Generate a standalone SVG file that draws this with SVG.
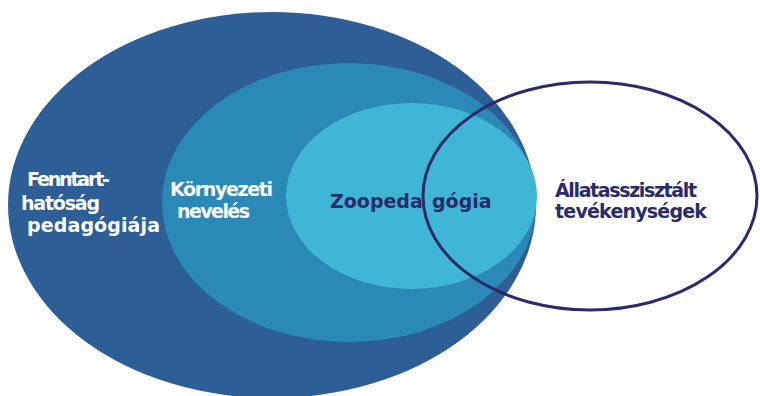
<svg xmlns="http://www.w3.org/2000/svg" width="760" height="396" viewBox="0 0 760 396">
  <style>
    .lbl { font-family: "DejaVu Sans", "Liberation Sans", sans-serif; font-weight: bold; font-size: 19px; }
    .w { fill: #ffffff; }
    .n { fill: #2b2a6b; }
  </style>
  <rect width="760" height="396" fill="#ffffff"/>
  <g id="node-fenntarthatosag">
    <ellipse cx="272" cy="205" rx="264" ry="193" fill="#2d5e96"/>
    <text class="lbl w" x="27" y="186" textLength="83" lengthAdjust="spacing">Fenntart-</text>
    <text class="lbl w" x="21" y="210" textLength="79" lengthAdjust="spacing">hatóság</text>
    <text class="lbl w" x="27" y="232" textLength="133" lengthAdjust="spacing">pedagógiája</text>
  </g>
  <g id="node-kornyezeti">
    <ellipse cx="349" cy="202.5" rx="187" ry="139.5" fill="#2b89b8"/>
    <text class="lbl w" x="170" y="196" textLength="103" lengthAdjust="spacing">Környezeti</text>
    <text class="lbl w" x="177" y="218" textLength="73" lengthAdjust="spacing">nevelés</text>
  </g>
  <g id="node-zoopedagogia">
    <ellipse cx="411.5" cy="196" rx="125.5" ry="93" fill="#40b6d6"/>
    <text class="lbl n" y="208"><tspan x="330">Zoopeda</tspan><tspan x="432">gógia</tspan></text>
  </g>
  <g id="node-allatasszisztalt">
    <ellipse cx="590" cy="196" rx="167" ry="114" fill="none" stroke="#2b2a6b" stroke-width="3"/>
    <text class="lbl n" x="555" y="197" textLength="142" lengthAdjust="spacing">Állatasszisztált</text>
    <text class="lbl n" x="555" y="218" textLength="152" lengthAdjust="spacing">tevékenységek</text>
  </g>
  <g id="connectors"/>
</svg>
